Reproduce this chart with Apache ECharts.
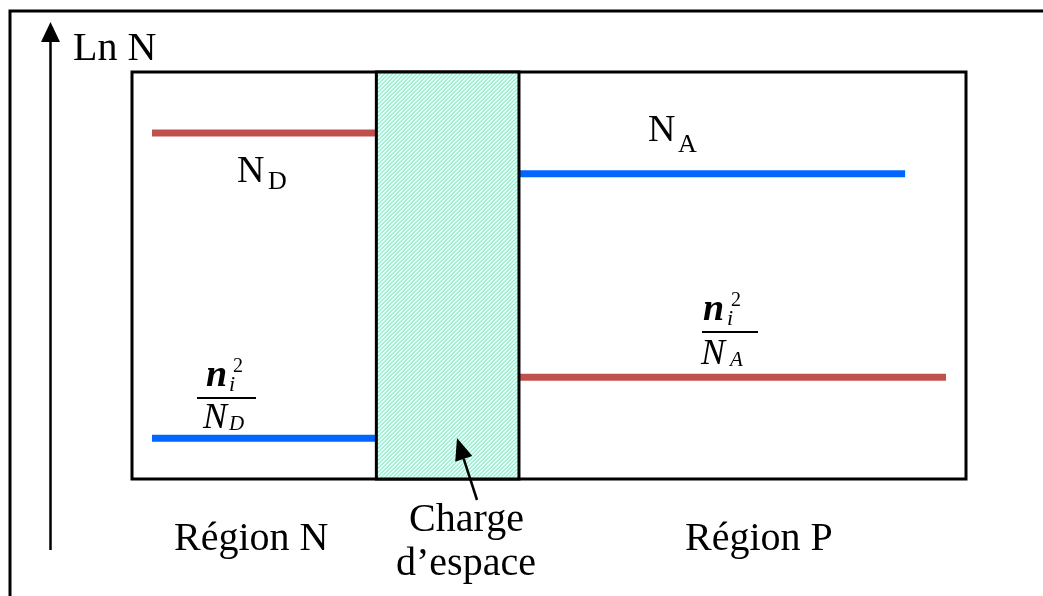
<!DOCTYPE html>
<html>
<head>
<meta charset="utf-8">
<script src="https://cdn.jsdelivr.net/npm/echarts@6/dist/echarts.min.js"></script>
<style>
html,body{margin:0;padding:0;background:#fff;}
#chart{width:1043px;height:596px;}
</style>
</head>
<body>
<div id="chart"></div>
<script>
// Abscissa: position across the junction (0..100), ordinate: Ln N (0..100, arbitrary units)
const xRange = [0, 100];
const yRange = [0, 100];
const spaceChargeZone = [29.3, 46.4];         // "Charge d'espace"
const regionNSpan = [2.4, 29.3];              // Région N lines
const regionPBlueSpan = [46.4, 92.7];         // N_A line
const regionPRedSpan = [46.4, 97.6];          // ni²/N_A line
const levelND = 85;      // N_D
const levelNiND = 10;    // ni²/N_D
const levelNA = 75;      // N_A
const levelNiNA = 25;    // ni²/N_A

const RED = '#c0504d';
const BLUE = '#0066ff';
const FONT = "'Liberation Serif','Times New Roman',serif";

function hatchPattern() {
  const c = document.createElement('canvas');
  c.width = 4; c.height = 4;
  const g = c.getContext('2d');
  g.fillStyle = '#a6f0d5';
  g.fillRect(0, 0, 4, 4);
  g.fillStyle = '#ffffff';
  for (let i = 0; i < 4; i++) { g.fillRect(3 - i, i, 1, 1); }
  g.fillStyle = '#dcfaef';
  for (let i = 0; i < 4; i++) { g.fillRect((4 - i) % 4, i, 1, 1); }
  return { image: c, repeat: 'repeat' };
}

function seg(span, level) { return [[span[0], level], [span[1], level]]; }

function txt(t, x, y, size, style, weight, align) {
  return {
    type: 'text', silent: true, z: 100,
    style: {
      text: t, x: x, y: y,
      font: (style || 'normal') + ' ' + (weight || 'normal') + ' ' + size + 'px ' + FONT,
      fill: '#000', textAlign: align || 'left', textVerticalAlign: 'middle'
    }
  };
}

const chart = echarts.init(document.getElementById('chart'));
const lineBase = { type: 'line', symbol: 'none', silent: true, animation: false, z: 3 };

chart.setOption({
  animation: false,
  backgroundColor: '#fff',
  grid: { left: 132, top: 72, width: 834, height: 407, show: true, borderColor: '#000', borderWidth: 3, backgroundColor: 'transparent' },
  xAxis: { type: 'value', min: xRange[0], max: xRange[1], show: false },
  yAxis: { type: 'value', min: yRange[0], max: yRange[1], show: false },
  series: [
    Object.assign({}, lineBase, {
      name: 'N_D', data: seg(regionNSpan, levelND),
      lineStyle: { color: RED, width: 7, cap: 'butt' },
      markArea: {
        silent: true, z: 4,
        itemStyle: { color: hatchPattern(), borderColor: '#000', borderWidth: 3 },
        data: [[{ xAxis: spaceChargeZone[0], yAxis: yRange[0] }, { xAxis: spaceChargeZone[1], yAxis: yRange[1] }]]
      }
    }),
    Object.assign({}, lineBase, { name: 'ni2/N_D', data: seg(regionNSpan, levelNiND), lineStyle: { color: BLUE, width: 7, cap: 'butt' } }),
    Object.assign({}, lineBase, { name: 'N_A', data: seg(regionPBlueSpan, levelNA), lineStyle: { color: BLUE, width: 7, cap: 'butt' } }),
    Object.assign({}, lineBase, { name: 'ni2/N_A', data: seg(regionPRedSpan, levelNiNA), lineStyle: { color: RED, width: 7, cap: 'butt' } })
  ],
  graphic: [
    { type: 'rect', silent: true, shape: { x: 10, y: 11, width: 1100, height: 700 }, style: { fill: 'none', stroke: '#000', lineWidth: 3 } },
    { type: 'line', silent: true, shape: { x1: 50.5, y1: 550, x2: 50.5, y2: 38 }, style: { stroke: '#000', lineWidth: 2.5 } },
    { type: 'polygon', silent: true, shape: { points: [[50.5, 22], [41, 42], [60, 42]] }, style: { fill: '#000' } },
    txt('Ln N', 73, 49, 40),
    // N_D label
    txt('N', 237, 172, 38), txt('D', 268, 182, 26),
    // N_A label
    txt('N', 648, 131, 38), txt('A', 678, 145, 26),
    // ni^2 / N_D
    txt('n', 206, 376, 38, 'italic', 'bold'), txt('i', 229, 385, 22, 'italic'), txt('2', 233, 367, 20),
    { type: 'line', silent: true, shape: { x1: 197, y1: 398, x2: 256, y2: 398 }, style: { stroke: '#000', lineWidth: 2 } },
    txt('N', 203, 419, 36, 'italic'), txt('D', 229, 424, 21, 'italic'),
    // ni^2 / N_A
    txt('n', 703, 310, 38, 'italic', 'bold'), txt('i', 727, 319, 22, 'italic'), txt('2', 731, 301, 20),
    { type: 'line', silent: true, shape: { x1: 702, y1: 332, x2: 758, y2: 332 }, style: { stroke: '#000', lineWidth: 2 } },
    txt('N', 701, 355, 36, 'italic'), txt('A', 730, 360, 21, 'italic'),
    // bottom labels
    txt('Région N', 174, 539, 40),
    txt('Région P', 685, 539, 40),
    txt('Charge', 466.5, 520, 40, 'normal', 'normal', 'center'),
    txt('d’espace', 466, 564, 40, 'normal', 'normal', 'center'),
    // arrow to space charge zone
    { type: 'line', silent: true, z: 100, shape: { x1: 477, y1: 500, x2: 463.75, y2: 458.9 }, style: { stroke: '#000', lineWidth: 2.5 } },
    { type: 'polygon', silent: true, z: 100, shape: { points: [[457, 438], [472.3, 456.1], [455.2, 461.7]] }, style: { fill: '#000' } }
  ]
});
</script>
</body>
</html>
